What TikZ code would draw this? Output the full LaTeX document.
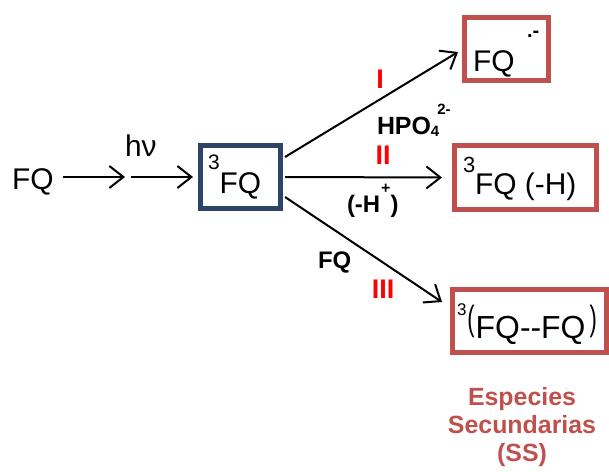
\documentclass[tikz,border=0pt]{standalone}
\usepackage{fontspec}
\setmainfont{Liberation Sans}
\usetikzlibrary{arrows.meta,calc}
\definecolor{navy}{RGB}{44,68,102}
\definecolor{ssred}{RGB}{192,80,77}
\definecolor{numred}{RGB}{255,0,0}
\newcommand{\fs}[1]{\fontsize{#1}{#1}\selectfont}
\newcommand{\tallbr}[1]{\raisebox{7.4bp}{\scalebox{1}[1.6]{\fs{22}#1}}}
\begin{document}
\begin{tikzpicture}[x=1bp,y=-1bp,
  txt/.style={inner sep=0pt, outer sep=0pt},
  arr/.style={line width=2bp, -{Straight Barb[length=14bp,width=22bp]}},
  navybox/.style={draw=navy, line width=5bp, minimum width=80bp, minimum height=63bp, inner sep=0pt},
  redbox/.style={draw=ssred, line width=5bp, inner sep=0pt},
  numlbl/.style={txt, text=numred, font=\bfseries\fs{27}},
  cond/.style={txt, font=\bfseries\fs{24}},
  big/.style={txt, anchor=base west, font=\fs{30}},
]
\useasboundingbox (0,0) rectangle (609,472);
% left part
\node[big] (fq0) at (12,190) {FQ};
\coordinate (hv) at (128,177);
\node[big] (hnu) at (125,157) {hν};
\node[navybox] (b) at (240.5,177) {};
\node[big] (bt) at (208,194) {\raisebox{24bp}{\fs{21}3}FQ};
% product boxes
\node[redbox, minimum width=84bp, minimum height=63bp] (t) at (506.5,49) {};
\node[big] (tt) at (473,72) {FQ};
\node[txt, anchor=base west, font=\bfseries\fs{20}] (tr) at (527,38) {.-};
\node[redbox, minimum width=142bp, minimum height=64bp] (m) at (525.5,177.5) {};
\node[big] (mt) at (463,195) {\raisebox{22bp}{\fs{22}3}FQ (-H)};
\node[redbox, minimum width=154bp, minimum height=63bp] (s) at (529.5,321) {};
\node[big, font=\fs{32}] (st) at (457,338) {\raisebox{23bp}{\fs{17}3}\hspace{1bp}\tallbr{(}\hspace{1bp}FQ-{}-FQ\hspace{4bp}\tallbr{)}};
% labels
\node[numlbl] (n1) at (380,79) {I};
\node[cond, anchor=base west, font=\bfseries\fs{25}] (hpo) at (377,135) {HPO\raisebox{-2bp}{\fs{15}4}\hspace{-2bp}\raisebox{20bp}{\fs{15}2-}};
\node[numlbl] (n2) at (383,155) {II};
\node[cond, anchor=base west] (hplus) at (347,213) {(-H\hspace{1bp}\raisebox{19bp}{\fs{16}+})};
\node[cond, anchor=base west] (fqc) at (318,269) {FQ};
\node[numlbl] (n3) at (383,289) {III};
\node[txt, anchor=north, align=center, text=ssred, font=\bfseries\fontsize{25}{28.5}\selectfont] (ss) at (522,387) {Especies\\Secundarias\\(SS)};
% connectors
\draw[arr] ($(fq0.east |- b.center)+(9,0)$) -- ($(hv)+(-3,0)$);
\draw[arr] ($(hv)+(3,0)$) -- ($(b.west)+(-5,0)$);
\draw[arr] ($(b.east)+(2,-20)$) -- ($(t.west)+(-4,3)$);
\draw[arr] ($(b.east)+(2,0)$) -- ($(m.west)+(-10,0)$);
\draw[arr] ($(b.east)+(2,20)$) -- ($(s.west)+(-8,-19)$);
\end{tikzpicture}
\end{document}
